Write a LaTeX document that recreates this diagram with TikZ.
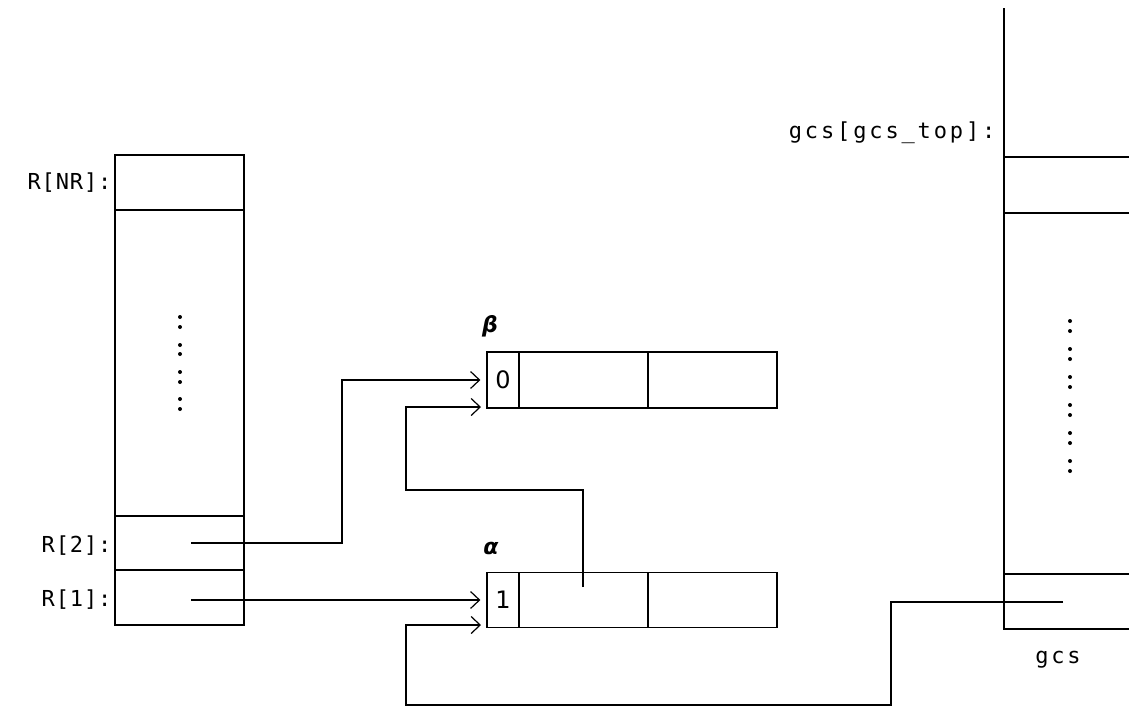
\documentclass[tikz,border=0pt]{standalone}
\usepackage{fontspec}
\usetikzlibrary{arrows.meta}
\newfontfamily\lbl[LetterSpace=4]{DejaVu Sans Mono}
\newfontfamily\lblg[LetterSpace=13]{DejaVu Sans Mono}
\newfontfamily\numf{DejaVu Sans}
\begin{document}
\begin{tikzpicture}[x=1pt,y=-1pt,line width=1.2pt,
  cell/.style={draw,inner sep=0pt,minimum height=#1},
  cell/.default=55pt,
  lab/.style={font=\lbl\fontsize{22}{24}\selectfont,inner sep=0pt},
  labg/.style={font=\lblg\fontsize{22}{24}\selectfont,inner sep=0pt},
  gl/.style={font=\numf\bfseries\itshape\fontsize{22}{24}\selectfont,inner sep=0pt},
  numt/.style={font=\numf\fontsize{24}{26}\selectfont},
  arr/.style={-{Straight Barb[length=9pt,width=17pt,line width=1.2pt]},shorten >=6pt},
  dotm/.style={fill,circle,inner sep=0pt,minimum size=4pt}]
\useasboundingbox (0,0) rectangle (1129,710);
% register array R
\node[cell=55pt,minimum width=129pt] (rnr) at (179.5,182.5) {};
\node[cell=306pt,minimum width=129pt] (rmid) at (179.5,363) {};
\node[cell=54pt,minimum width=129pt] (r2) at (179.5,543) {};
\node[cell=55pt,minimum width=129pt] (r1) at (179.5,597.5) {};
\node[lab,anchor=east] (lnr) at (112,183) {R[NR]:};
\node[lab,anchor=east] (l2) at (112,546) {R[2]:};
\node[lab,anchor=east] (l1) at (112,600) {R[1]:};
\foreach \y [count=\i] in {317,327,345,354,372,382,399,409}
  \node[dotm] (rd\i) at (180,\y) {};
% beta record
\node[cell=56pt,minimum width=32pt,numt] (btag) at (503,380) {0};
\node[cell=56pt,minimum width=129pt] (bc1) at (583.5,380) {};
\node[cell=56pt,minimum width=129pt] (bc2) at (712.5,380) {};
\node[gl] (beta) at (490,326) {β};
% alpha record
\node[cell=55pt,minimum width=32pt,numt] (atag) at (503,600) {1};
\node[cell=55pt,minimum width=129pt] (ac1) at (583.5,600) {};
\node[cell=55pt,minimum width=129pt] (ac2) at (712.5,600) {};
\node[gl] (alpha) at (491,548) {α};
% gcs stack
\coordinate (gtop) at (1004,8);
\coordinate (gbot) at (1004,629);
\draw (gtop) -- (gbot) -- (1129,629);
\draw (1004,157) -- (1129,157);
\draw (1004,213) -- (1129,213);
\draw (1004,574) -- (1129,574);
\foreach \y [count=\i] in {321,331,349,359,377,387,405,415,433,443,461,471}
  \node[dotm] (gd\i) at (1070,\y) {};
\node[labg,anchor=east] (ltop) at (996,133) {gcs[gcs\_top]:};
\node[labg] (lgcs) at (1058,660) {gcs};
% connector start points
\coordinate (r2p) at (191,543);
\coordinate (r1p) at (191,600);
\coordinate (ap) at (583,587);
\coordinate (gp) at (1063,602);
\coordinate (bin2) at (487,407);
\coordinate (ain2) at (487,625);
% connectors
\draw[arr] (r2p) -- (342,543) |- (btag.west);
\draw[arr] (ap) -- (583,490) -- (406,490) |- (bin2);
\draw[arr] (r1p) -- (r1p -| atag.west);
\draw[arr] (gp) -- (891,602) -- (891,705) -- (406,705) |- (ain2);
\end{tikzpicture}
\end{document}
